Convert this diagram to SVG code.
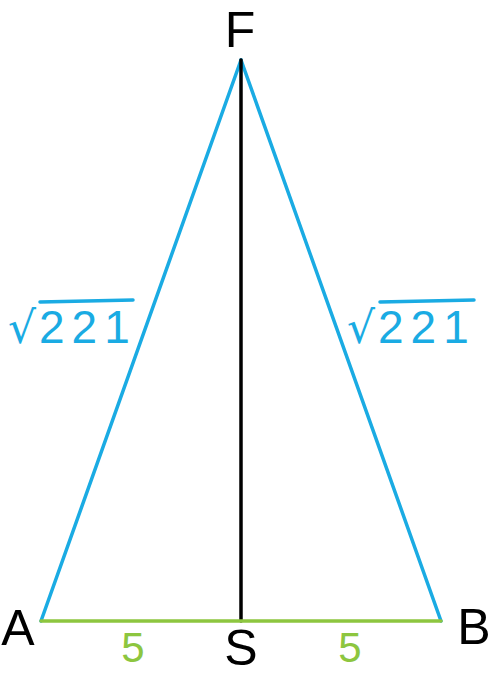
<svg xmlns="http://www.w3.org/2000/svg" width="492" height="676" viewBox="0 0 492 676">
<style>
.blue{stroke:#1AABE3;stroke-width:3.5;fill:none;stroke-linecap:round}
.green{stroke:#8DC63F;stroke-width:3.5;fill:none;stroke-linecap:round}
.black{stroke:#000;stroke-width:3.5;fill:none;stroke-linecap:round}
.lbl{font-family:"Liberation Sans",Arial,sans-serif;fill:#000;font-size:50px;text-anchor:middle}
.num{font-family:"Liberation Sans",Arial,sans-serif;fill:#8DC63F;font-size:42px;text-anchor:middle}
.rt{font-family:"Liberation Sans",Arial,sans-serif;fill:#1AABE3;font-size:46px;letter-spacing:7px}
.rad{font-family:"DejaVu Sans",sans-serif;fill:#1AABE3;font-size:44px}
</style>
<g id="connectors">
<line class="blue" x1="41" y1="621" x2="241" y2="60"/>
<line class="blue" x1="441" y1="621" x2="241" y2="60"/>
<line class="black" x1="241" y1="60" x2="241" y2="621"/>
<line class="green" x1="41" y1="621" x2="441" y2="621"/>
</g>
<g id="F"><text class="lbl" x="240" y="47">F</text></g>
<g id="A"><text class="lbl" x="18" y="645">A</text></g>
<g id="B"><text class="lbl" x="474" y="644">B</text></g>
<g id="S"><text class="lbl" x="241" y="665">S</text></g>
<g id="label-AS"><text class="num" x="133" y="662">5</text></g>
<g id="label-SB"><text class="num" x="350" y="662">5</text></g>
<g id="label-AF">
<text class="rad" x="8" y="343">√</text>
<text class="rt" x="39" y="343">221</text>
<line class="blue" x1="40" y1="302" x2="133" y2="300"/>
</g>
<g id="label-BF">
<text class="rad" x="347" y="343">√</text>
<text class="rt" x="378" y="343">221</text>
<line class="blue" x1="380" y1="302" x2="474" y2="300"/>
</g>
</svg>
